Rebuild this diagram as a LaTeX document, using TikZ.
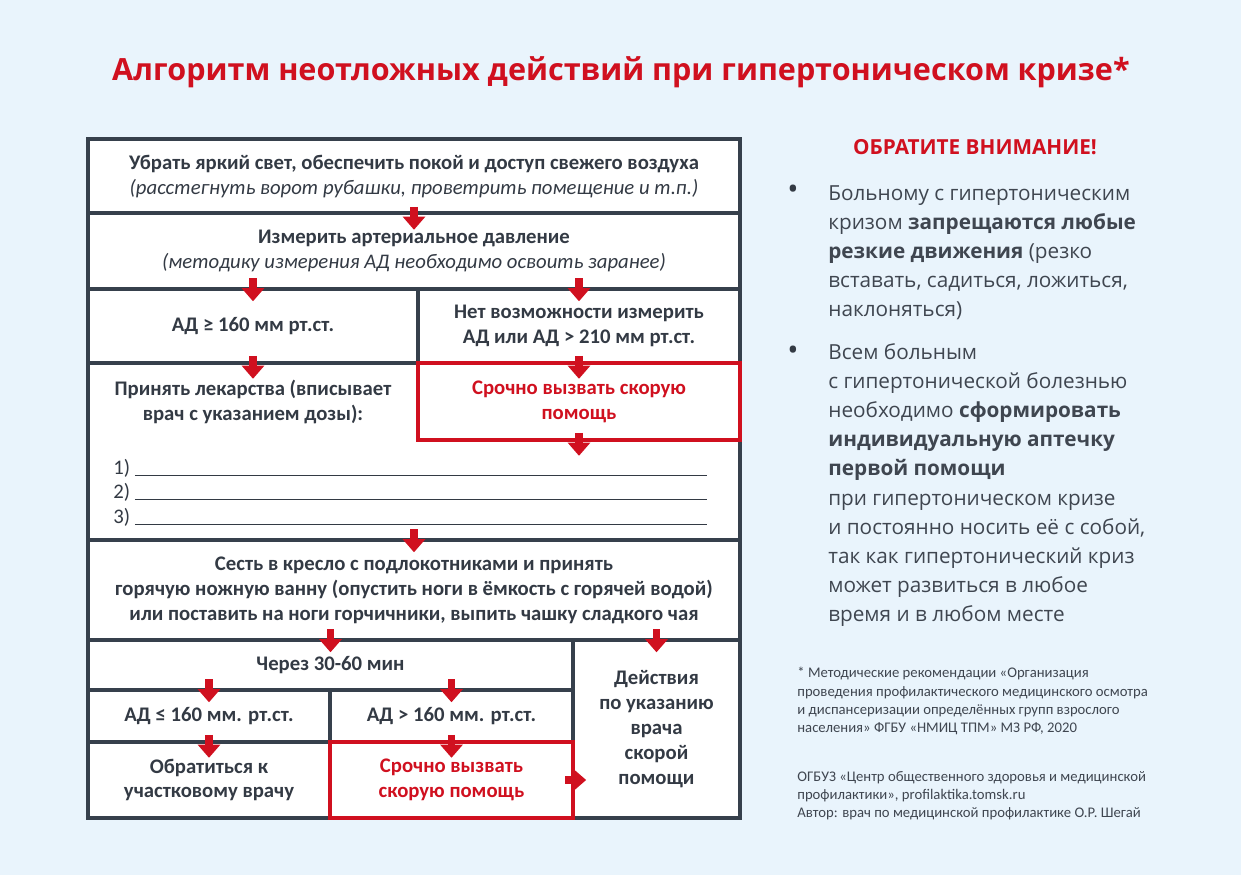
\documentclass[tikz,border=0pt]{standalone}
\usepackage{fontspec}
\setmainfont{Carlito}
\newfontfamily\opensans{Open Sans}
\usetikzlibrary{arrows.meta}
\definecolor{bgblue}{HTML}{E9F4FC}
\definecolor{frame}{HTML}{36404C}
\definecolor{alarm}{HTML}{D0101F}
\definecolor{ink}{HTML}{333A44}
\definecolor{note}{HTML}{3F4650}

\tikzset{
  cell/.style={draw=frame, fill=white, line width=2pt, inner sep=0pt, align=center, text=ink,
    font=\bfseries\fontsize{11.8}{14.2}\selectfont},
  redcell/.style={cell, draw=alarm, text=alarm},
  celltext/.style={inner sep=0pt, align=center, text=ink, font=\bfseries\fontsize{11.8}{14.2}\selectfont},
  listtext/.style={inner sep=0pt, anchor=base west, text=ink, font=\fontsize{11.8}{14.2}\selectfont},
  redarr/.style={draw=alarm, line width=4.5pt, -{Triangle[width=12.5pt,length=7.5pt]}},
  sidetext/.style={inner sep=0pt, anchor=north west, align=left, text=note,
    font=\opensans\fontsize{11.8}{16.6}\selectfont},
  dot/.style={inner sep=0pt, text=ink, font=\opensans\fontsize{17}{17}\selectfont},
  notetext/.style={inner sep=0pt, anchor=north west, align=left, text=note,
    font=\fontsize{8.37}{10.4}\selectfont},
}

\begin{document}
\begin{tikzpicture}[x=0.02cm, y=-0.02cm]
    %the background
    \fill[bgblue] (0,0) rectangle (1241,875);
    \useasboundingbox (0,0) rectangle (1241,875);
    %the title
    \node[inner sep=0pt, text=alarm, font=\opensans\bfseries\fontsize{17.4}{22}\selectfont] (title) at (621,72)
        {Алгоритм неотложных действий при гипертоническом кризе*};
    %the cells
    \node[cell, minimum width=13.04cm, minimum height=1.5cm] (c1) at (414,176.5)
        {Убрать яркий свет, обеспечить покой и доступ свежего воздуха\\
        {\normalfont\itshape (расстегнуть ворот рубашки, проветрить помещение и т.п.)}};
    \node[cell, minimum width=13.04cm, minimum height=1.52cm] (c2) at (414,251)
        {Измерить артериальное давление\\
        {\normalfont\itshape (методику измерения АД необходимо освоить заранее)}};
    \node[cell, minimum width=6.6cm, minimum height=1.48cm] (c3a) at (253,326) {АД ≥ 160 мм рт.ст.};
    \node[cell, minimum width=6.44cm, minimum height=1.48cm] (c3b) at (579,326)
        {Нет возможности измерить\\АД или АД > 210 мм рт.ст.};
    \node[cell, minimum width=13.04cm, minimum height=3.54cm] (c4) at (414,451.5) {};
    \node[cell, minimum width=13.04cm, minimum height=2cm] (c5) at (414,590)
        {Сесть в кресло с подлокотниками и принять\\
        горячую ножную ванну (опустить ноги в ёмкость с горячей водой)\\
        или поставить на ноги горчичники, выпить чашку сладкого чая};
    \node[cell, minimum width=9.7cm, minimum height=1cm] (c6) at (330.5,665) {Через 30-60 мин};
    \node[cell, minimum width=3.34cm, minimum height=3.56cm] (c6r) at (656.5,729)
        {Действия\\по указанию\\врача\\скорой\\помощи};
    \node[cell, minimum width=4.84cm, minimum height=1.04cm] (c7a) at (209,716) {АД ≤ 160 мм. рт.ст.};
    \node[cell, minimum width=4.86cm, minimum height=1.04cm] (c7b) at (451.5,716) {АД > 160 мм. рт.ст.};
    \node[cell, minimum width=4.84cm, minimum height=1.52cm] (c8a) at (209,780) {Обратиться к\\участковому врачу};
    %the red cells
    \node[redcell, minimum width=6.44cm, minimum height=1.54cm] (c4r) at (579,401.5)
        {Срочно вызвать скорую\\помощь};
    \node[redcell, minimum width=4.86cm, minimum height=1.52cm] (c8b) at (451.5,780)
        {Срочно вызвать\\скорую помощь};
    %the drugs list
    \node[celltext] (drugs) at (253,402) {Принять лекарства (вписывает\\врач с указанием дозы):};
    \node[listtext] (d1) at (113,474) {1) \rule[-1pt]{11.44cm}{0.6pt}};
    \node[listtext] (d2) at (113,498) {2) \rule[-1pt]{11.44cm}{0.6pt}};
    \node[listtext] (d3) at (113,523) {3) \rule[-1pt]{11.44cm}{0.6pt}};
    %the arrows
    \foreach \p in {c1.south, c3a.north, c3b.north, c3a.south, c3b.south, c4r.south, c5.north,
        c6.north, c6r.north, c7a.north, c7b.north, c7a.south, c7b.south}
        \draw[redarr] ([yshift=5pt]\p) -- ([yshift=-8pt]\p);
    \draw[redarr] ([xshift=-5.5pt]c8b.east) -- ([xshift=6.5pt]c8b.east);
    %the side panel
    \node[inner sep=0pt, text=alarm, font=\opensans\bfseries\fontsize{11.8}{14}\selectfont] (warn) at (975,147)
        {ОБРАТИТЕ ВНИМАНИЕ!};
    \node[dot] (b1) at (793,192) {•};
    \node[sidetext] (p1) at (828,185) {Больному с гипертоническим\\
        кризом \textbf{запрещаются любые}\\
        \textbf{резкие движения} (резко\\
        вставать, садиться, ложиться,\\
        наклоняться)};
    \node[dot] (b2) at (793,353) {•};
    \node[sidetext] (p2) at (828,343) {Всем больным\\
        с гипертонической болезнью\\
        необходимо \textbf{сформировать}\\
        \textbf{индивидуальную аптечку}\\
        \textbf{первой помощи}\\
        при гипертоническом кризе\\
        и постоянно носить её с собой,\\
        так как гипертонический криз\\
        может развиться в любое\\
        время и в любом месте};
    %the notes
    \node[notetext] (n1) at (797,667) {* Методические рекомендации «Организация\\
        проведения профилактического медицинского осмотра\\
        и диспансеризации определённых групп взрослого\\
        населения» ФГБУ «НМИЦ ТПМ» МЗ РФ, 2020};
    \node[notetext] (n2) at (797,771) {ОГБУЗ «Центр общественного здоровья и медицинской\\
        профилактики», profilaktika.tomsk.ru\\
        Автор: врач по медицинской профилактике О.Р. Шегай};
\end{tikzpicture}
\end{document}
